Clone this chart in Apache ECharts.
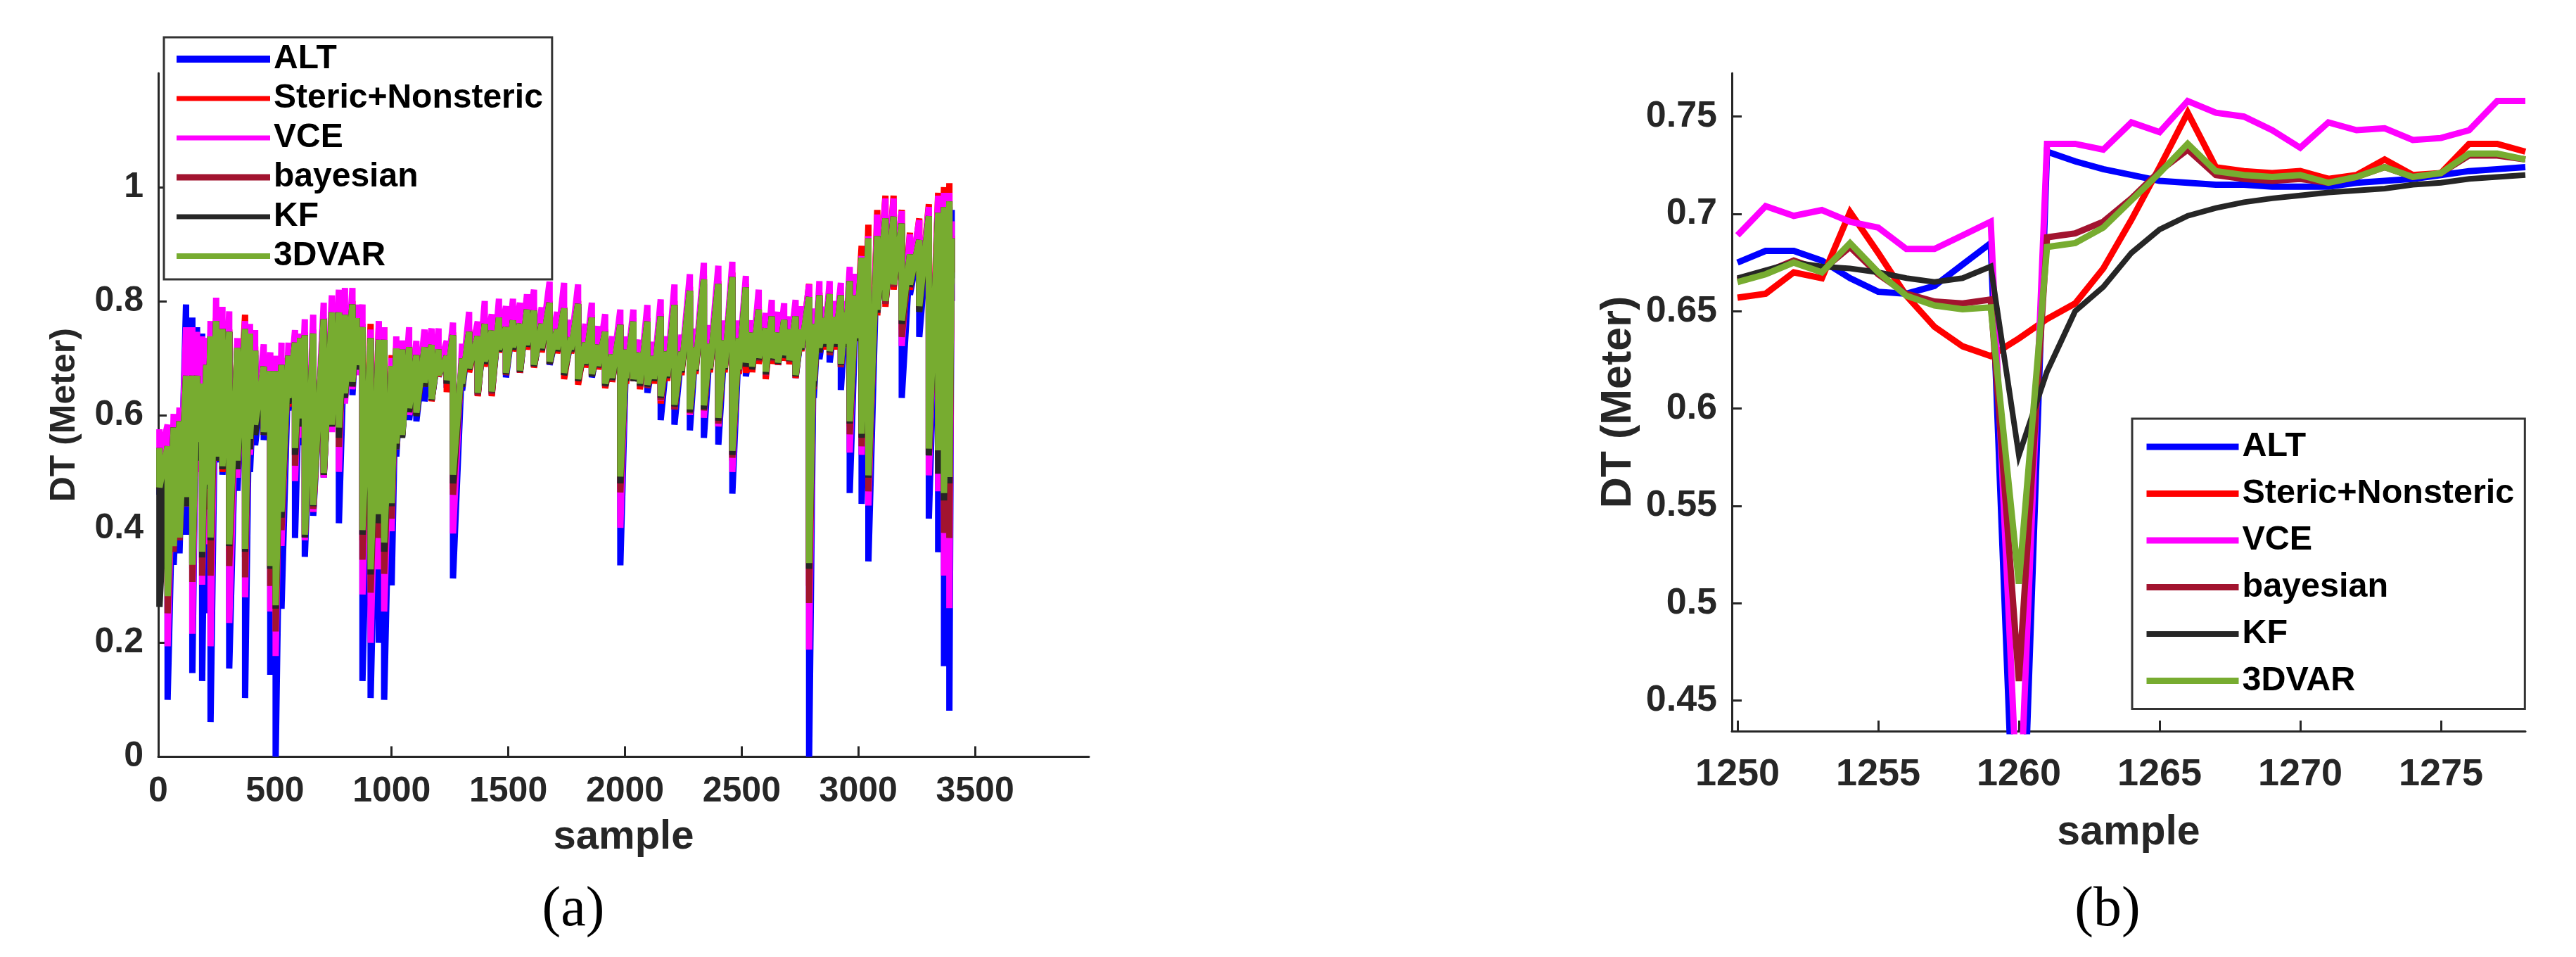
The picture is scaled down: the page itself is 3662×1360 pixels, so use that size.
<!DOCTYPE html>
<html><head><meta charset="utf-8">
<style>html,body{margin:0;padding:0;background:#fff}#c{width:3662px;height:1360px}</style>
<script src="https://cdn.jsdelivr.net/npm/echarts@6/dist/echarts.min.js"></script>
</head><body><div id="c"></div>
<script>
const seriesNames=['ALT','Steric+Nonsteric','VCE','bayesian','KF','3DVAR'];
const seriesColors=['#0000FF','#FF0000','#FF00FF','#A2142F','#262626','#77AC30'];
const xTicksA=[0,500,1000,1500,2000,2500,3000,3500];
const yTicksA=[0,0.2,0.4,0.6,0.8,1];
const xTicksB=[1250,1255,1260,1265,1270,1275];
const yTicksB=[0.45,0.5,0.55,0.6,0.65,0.7,0.75];

// Panel (a): for each stripe position the top and bottom reading of each series
const sampleA=[5,40,66,91,119,146,166,188,206,224,
248,275,304,339,372,393,415,452,480,503,
528,558,586,608,628,664,709,744,774,800,
832,850,875,910,945,968,1000,1020,1045,1075,
1106,1141,1171,1201,1236,1263,1302,1332,1369,1399,
1429,1460,1490,1520,1550,1580,1610,1643,1677,1709,
1739,1769,1799,1830,1858,1885,1915,1945,1980,2005,
2036,2064,2096,2124,2153,2181,2212,2242,2278,2302,
2338,2364,2400,2427,2460,2488,2518,2545,2573,2603,
2629,2656,2682,2704,2731,2756,2789,2809,2833,2855,
2877,2900,2925,2945,2963,2990,3014,3043,3081,3116,
3151,3186,3221,3261,3302,3342,3367,3390,3400];
const vceHi=[.575,.583,.602,.613,.754,.754,.746,.738,.735,.765,
.806,.79,.782,.735,.765,.76,.749,.724,.71,.704,
.727,.727,.749,.743,.768,.776,.797,.81,.82,.823,
.823,.794,.794,.75,.765,.754,.70,.738,.731,.754,
.73,.75,.752,.752,.73,.762,.725,.781,.764,.80,
.777,.804,.791,.804,.797,.812,.82,.789,.834,.781,
.832,.767,.829,.76,.797,.756,.777,.738,.785,.738,
.785,.732,.793,.728,.803,.738,.829,.741,.847,.752,
.867,.758,.862,.766,.869,.766,.844,.766,.82,.779,
.802,.781,.796,.773,.802,.791,.829,.787,.835,.79,
.835,.80,.832,.80,.86,.848,.879,.914,.952,.98,
.98,.958,.917,.942,.965,.985,.99,.99,.94];
const vceLo=[.52,.194,.40,.40,.44,.216,.50,.302,.373,.194,
.53,.51,.235,.49,.28,.53,.57,.57,.255,.177,
.37,.62,.484,.56,.38,.43,.49,.57,.50,.62,
.645,.67,.285,.20,.329,.255,.396,.54,.57,.60,
.61,.66,.63,.68,.66,.392,.66,.69,.645,.70,
.645,.72,.68,.725,.685,.73,.695,.725,.70,.72,
.68,.72,.67,.695,.68,.69,.66,.67,.402,.67,
.67,.66,.66,.67,.625,.675,.61,.685,.60,.69,
.595,.69,.58,.69,.50,.69,.69,.69,.70,.67,
.705,.695,.71,.70,.675,.72,.188,.65,.72,.73,
.715,.73,.684,.73,.534,.74,.53,.441,.78,.80,
.83,.721,.835,.80,.494,.466,.318,.261,.80];
const dvarHi=[.542,.545,.578,.589,.669,.669,.669,.655,.688,.738,
.765,.751,.746,.718,.751,.743,.713,.685,.677,.677,
.688,.704,.727,.735,.74,.743,.768,.78,.78,.776,
.794,.77,.754,.735,.732,.732,.686,.717,.715,.719,
.705,.719,.723,.715,.703,.74,.699,.746,.738,.76,
.748,.771,.754,.766,.76,.785,.783,.76,.797,.75,
.787,.736,.795,.727,.771,.723,.746,.706,.758,.715,
.764,.709,.764,.703,.773,.711,.793,.711,.818,.719,
.838,.725,.83,.731,.842,.735,.824,.744,.785,.752,
.773,.744,.767,.75,.773,.75,.807,.76,.81,.77,
.812,.772,.81,.78,.835,.81,.876,.91,.914,.945,
.948,.936,.882,.907,.949,.955,.965,.975,.91];
const dvarLo=[.473,.282,.37,.385,.456,.337,.553,.36,.478,.385,
.527,.51,.373,.52,.365,.558,.583,.57,.335,.266,
.43,.63,.542,.594,.39,.442,.498,.583,.578,.638,
.658,.688,.398,.329,.426,.376,.445,.55,.565,.612,
.604,.657,.628,.67,.661,.495,.655,.682,.639,.694,
.641,.715,.674,.719,.678,.723,.688,.717,.694,.715,
.674,.715,.663,.69,.672,.686,.655,.665,.492,.665,
.663,.655,.653,.663,.633,.668,.618,.678,.61,.68,
.617,.682,.595,.683,.537,.68,.692,.685,.70,.676,
.70,.692,.705,.696,.67,.718,.34,.66,.718,.725,
.712,.725,.69,.725,.589,.735,.567,.494,.785,.80,
.829,.766,.829,.791,.541,.538,.463,.491,.83];
const altHi=[.50,.52,.55,.56,.794,.771,.754,.743,.735,.73,
.76,.75,.745,.71,.74,.74,.705,.68,.67,.67,
.68,.70,.72,.73,.735,.74,.76,.775,.775,.77,
.79,.765,.75,.73,.73,.73,.68,.71,.71,.715,
.70,.715,.72,.71,.70,.735,.695,.74,.73,.755,
.745,.765,.75,.76,.755,.78,.78,.755,.79,.745,
.78,.73,.79,.72,.765,.72,.74,.70,.75,.71,
.76,.705,.76,.70,.77,.708,.79,.708,.81,.715,
.83,.72,.825,.725,.835,.73,.82,.74,.78,.75,
.77,.74,.76,.745,.77,.745,.80,.75,.805,.76,
.805,.77,.805,.77,.83,.80,.87,.90,.91,.94,
.94,.93,.875,.90,.94,.95,.96,.965,.96];
const altLo=[.46,.10,.337,.357,.39,.147,.508,.133,.252,.061,
.517,.495,.155,.467,.103,.50,.547,.556,.144,0,
.26,.608,.384,.547,.351,.423,.49,.58,.41,.63,
.635,.685,.133,.103,.20,.10,.301,.527,.562,.591,
.589,.624,.625,.668,.648,.313,.643,.68,.635,.69,
.635,.712,.666,.715,.674,.72,.685,.712,.688,.71,
.67,.71,.66,.685,.666,.683,.65,.66,.336,.665,
.66,.65,.639,.66,.591,.665,.583,.678,.573,.675,
.56,.68,.548,.68,.462,.675,.668,.68,.695,.67,
.695,.688,.70,.695,.665,.715,0,.63,.698,.72,
.692,.72,.644,.72,.463,.735,.444,.343,.78,.795,
.825,.63,.811,.737,.418,.359,.159,.081,.80];
const bayLo=[.47,.252,.36,.38,.44,.307,.53,.318,.434,.318,
.525,.505,.335,.51,.315,.54,.57,.565,.30,.22,
.398,.625,.511,.58,.385,.435,.495,.58,.544,.635,
.65,.685,.346,.288,.384,.321,.418,.54,.565,.605,
.60,.65,.626,.67,.655,.46,.65,.68,.635,.69,
.637,.712,.67,.715,.675,.72,.685,.713,.69,.712,
.67,.71,.66,.687,.668,.683,.65,.66,.464,.66,
.66,.65,.648,.66,.626,.665,.61,.675,.603,.677,
.608,.68,.585,.68,.525,.678,.685,.68,.695,.67,
.695,.69,.70,.693,.668,.715,.27,.645,.71,.72,
.705,.72,.684,.72,.566,.73,.545,.466,.78,.795,
.825,.737,.825,.785,.53,.52,.393,.384,.85];
const steHi=[.53,.55,.57,.58,.674,.674,.67,.67,.68,.74,
.77,.755,.75,.725,.776,.75,.72,.69,.68,.68,
.70,.71,.73,.74,.745,.75,.77,.785,.785,.78,
.80,.775,.76,.76,.754,.754,.705,.72,.72,.72,
.71,.72,.725,.72,.705,.745,.70,.75,.74,.765,
.75,.775,.758,.77,.763,.79,.788,.765,.80,.755,
.79,.74,.80,.73,.775,.728,.75,.71,.76,.72,
.77,.712,.77,.708,.778,.715,.80,.715,.825,.725,
.845,.73,.835,.735,.85,.74,.83,.75,.79,.755,
.775,.75,.77,.755,.78,.755,.83,.77,.815,.775,
.82,.78,.815,.785,.84,.82,.897,.934,.96,.985,
.985,.96,.92,.945,.97,.99,1.0,1.007,.915];
const steLo=[.47,.30,.37,.39,.44,.33,.53,.34,.47,.33,
.52,.50,.36,.51,.35,.54,.57,.565,.33,.25,
.42,.615,.53,.58,.385,.43,.492,.58,.56,.63,
.65,.68,.38,.31,.40,.35,.43,.54,.565,.60,
.60,.65,.624,.668,.64,.47,.65,.675,.633,.685,
.633,.71,.672,.712,.674,.715,.683,.71,.69,.708,
.663,.708,.653,.683,.67,.68,.647,.658,.47,.655,
.66,.645,.648,.655,.62,.66,.61,.67,.60,.672,
.60,.675,.58,.675,.52,.672,.674,.675,.69,.663,
.69,.688,.695,.689,.665,.712,.30,.65,.71,.715,
.708,.715,.685,.72,.58,.73,.56,.48,.775,.79,
.82,.75,.82,.79,.53,.53,.43,.45,.85];
const kfLo=[.263,.33,.38,.39,.44,.34,.52,.35,.47,.38,
.52,.505,.37,.505,.36,.54,.565,.565,.33,.26,
.42,.62,.53,.58,.385,.44,.495,.58,.56,.63,
.65,.68,.39,.32,.41,.36,.44,.54,.56,.605,
.598,.65,.626,.67,.655,.48,.65,.68,.638,.69,
.64,.712,.672,.715,.676,.72,.686,.714,.69,.712,
.67,.712,.66,.688,.668,.684,.652,.662,.48,.66,
.66,.652,.65,.66,.63,.665,.615,.675,.605,.678,
.61,.68,.59,.68,.53,.68,.685,.68,.698,.672,
.698,.69,.70,.695,.668,.715,.33,.65,.71,.72,
.71,.72,.688,.72,.585,.73,.56,.49,.78,.80,
.83,.76,.825,.781,.529,.497,.45,.48,.84];

// Panel (b)
const sampleB=[1250,1251,1252,1253,1254,1255,1256,1257,1258,1259,1260,1261,1262,1263,1264,1265,1266,1267,1268,1269,1270,1271,1272,1273,1274,1275,1276,1277,1278];
const altB=[.675,.681,.681,.676,.667,.660,.659,.663,.674,.685,.31,.732,.727,.723,.720,.717,.716,.715,.715,.714,.714,.714,.716,.717,.718,.720,.722,.723,.724];
const steB=[.657,.659,.670,.667,.701,.680,.658,.642,.632,.627,.636,.646,.654,.672,.697,.724,.752,.724,.722,.721,.722,.718,.720,.728,.720,.721,.736,.736,.732];
const vceB=[.689,.704,.699,.702,.696,.693,.682,.682,.689,.696,.38,.736,.736,.733,.747,.742,.758,.752,.750,.743,.734,.747,.743,.744,.738,.739,.743,.758,.758];
const bayB=[.666,.670,.676,.671,.683,.669,.659,.655,.654,.656,.46,.688,.690,.696,.708,.722,.733,.720,.718,.717,.718,.716,.719,.724,.719,.721,.730,.730,.728];
const kfB=[.667,.671,.675,.673,.672,.670,.667,.665,.667,.673,.576,.619,.65,.6625,.68,.692,.699,.703,.706,.708,.7095,.711,.712,.713,.715,.716,.718,.719,.720];
const dvarB=[.665,.669,.675,.670,.685,.670,.658,.653,.651,.652,.51,.683,.685,.693,.707,.721,.736,.722,.720,.719,.720,.716,.719,.724,.719,.721,.731,.731,.728];

const AX='#262626', SANS='"Liberation Sans",Arial,sans-serif';
function stripes(hi,lo){const d=[];sampleA.forEach((s,i)=>{d.push([s,hi[i]],[s,lo[i]]);});return d;}
const dataA=[stripes(altHi,altLo),stripes(steHi,steLo),stripes(vceHi,vceLo),stripes(dvarHi,bayLo),stripes(dvarHi,kfLo),stripes(dvarHi,dvarLo)];
const dataB=[altB,steB,vceB,bayB,kfB,dvarB].map(v=>v.map((y,i)=>[sampleB[i],y]));
const legendWidthsA=[10,7,7,9,7,8], lineWidthsB=[9,9,9,9,8,9];

function axis(o,ticks,tickLen,size,margin,gridIndex,name,nameGap,nameSize){
 return {type:'value',gridIndex,min:o[0],max:o[1],name,nameLocation:'middle',nameGap,
  nameTextStyle:{fontFamily:SANS,fontWeight:'bold',fontSize:nameSize,color:AX},
  axisLine:{show:true,onZero:false,lineStyle:{color:AX,width:3}},
  axisTick:{show:true,inside:true,length:tickLen,customValues:ticks,lineStyle:{color:AX,width:3}},
  axisLabel:{show:true,margin,customValues:ticks,formatter:v=>String(v),hideOverlap:false,fontFamily:SANS,fontWeight:'bold',fontSize:size,color:AX},
  splitLine:{show:false}};
}
function legend(box){
 return {data:seriesNames.map((n,i)=>({name:n,lineStyle:{width:box.widths[i]}})),orient:'vertical',left:box.left,top:box.top,
  padding:box.padding,itemWidth:box.itemWidth,itemHeight:box.itemHeight,itemGap:box.itemGap,backgroundColor:'#fff',borderColor:'#333',borderWidth:3,borderRadius:0,
  itemStyle:{color:'transparent',borderColor:'transparent',borderWidth:0,opacity:0},
  selectedMode:false,align:'left',textStyle:{fontFamily:SANS,fontWeight:'bold',fontSize:box.size,color:'#000',lineHeight:box.itemHeight}};
}
const chart=echarts.init(document.getElementById('c'),null,{width:3662,height:1360,renderer:'canvas'});
chart.setOption({animation:false,backgroundColor:'#fff',
 title:[
  {text:'(a)',left:810,top:1249,textAlign:'center',textStyle:{fontFamily:'"Liberation Serif",serif',fontWeight:'normal',fontSize:80,color:'#000'}},
  {text:'(b)',left:2991,top:1249,textAlign:'center',textStyle:{fontFamily:'"Liberation Serif",serif',fontWeight:'normal',fontSize:80,color:'#000'}}],
 grid:[{left:225,top:104,width:1323,height:971.5},{left:2462,top:104,width:1128,height:935}],
 legend:[
  legend({left:233,top:53,padding:[7,13,9,13],itemWidth:133,itemHeight:48,itemGap:8,size:48,widths:legendWidthsA}),
  legend({left:3031,top:595,padding:[14,15,14,16],itemWidth:131,itemHeight:52,itemGap:14.5,size:48.5,widths:lineWidthsB})],
 xAxis:[
  axis([0,3988],xTicksA,15,50,25,0,'sample',85,58),
  axis([1249.8,1278],xTicksB,15,54,35,1,'sample',115,59)],
 yAxis:[
  axis([0,1.2],yTicksA,12,50,21,0,'DT (Meter)',108,50),
  axis([0.4343,0.7723],yTicksB,14,52,21,1,'DT (Meter)',130,61)],
 series:[
  ...seriesNames.map((n,i)=>({type:'line',name:n,xAxisIndex:0,yAxisIndex:0,data:dataA[i],symbol:'none',silent:true,clip:true,
    lineStyle:{color:seriesColors[i],width:9,cap:'butt',join:'bevel'},itemStyle:{color:seriesColors[i]}})),
  ...seriesNames.map((n,i)=>({type:'line',name:n,xAxisIndex:1,yAxisIndex:1,data:dataB[i],symbol:'none',silent:true,clip:true,
    lineStyle:{color:seriesColors[i],width:lineWidthsB[i],cap:'butt',join:'miter'},itemStyle:{color:seriesColors[i]}}))
 ]});
</script></body></html>
